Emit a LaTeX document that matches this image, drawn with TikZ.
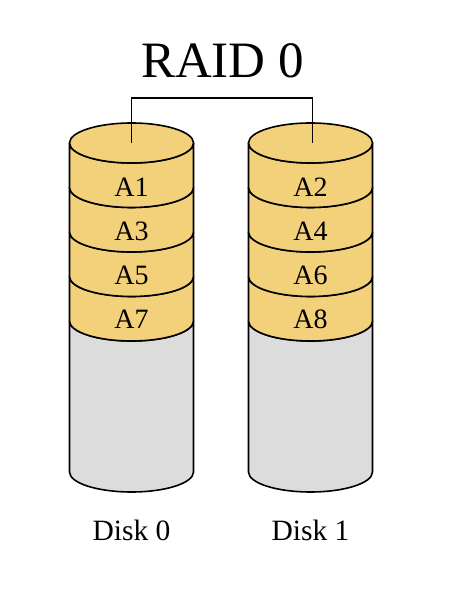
\documentclass[tikz,border=0pt]{standalone}
\usepackage{fontspec}
\setmainfont{Liberation Serif}
\usepackage{tikz}
\usetikzlibrary{positioning}
\usepackage{xcolor}
\definecolor{blockgold}{RGB}{243,208,122}
\definecolor{freegray}{RGB}{220,220,220}

\begin{document}
\begin{tikzpicture}[
    x=1pt,y=1pt,
    disk/.style={draw=black,line width=1.6pt,line join=round},
    blk/.style={disk,fill=blockgold},
    spare/.style={disk,fill=freegray},
    blklabel/.style={inner sep=0pt,font=\fontsize{28}{32}\selectfont},
    disklabel/.style={inner sep=0pt,font=\fontsize{29.5}{33}\selectfont},
    wire/.style={draw=black,line width=1.6pt}
]
\useasboundingbox (0,0) rectangle (453,594);
% Disk 0
\draw[spare] (69.5,273) arc (180:360:62pt and 20pt) -- (193.5,122) arc (0:-180:62pt and 20pt) -- cycle;
\draw[blk] (69.5,317.5) arc (180:360:62pt and 20pt) -- (193.5,273) arc (0:-180:62pt and 20pt) -- cycle;
\draw[blk] (69.5,362) arc (180:360:62pt and 20pt) -- (193.5,317.5) arc (0:-180:62pt and 20pt) -- cycle;
\draw[blk] (69.5,406.5) arc (180:360:62pt and 20pt) -- (193.5,362) arc (0:-180:62pt and 20pt) -- cycle;
\draw[blk] (69.5,451) arc (180:360:62pt and 20pt) -- (193.5,406.5) arc (0:-180:62pt and 20pt) -- cycle;
\draw[blk] (131.5,451) ellipse (62pt and 20pt);
\coordinate (top0) at (131.5,451);
\node[blklabel] (a1) at (131.5,407) {A1};
\node[blklabel] (a3) at (131.5,362.5) {A3};
\node[blklabel] (a5) at (131.5,319) {A5};
\node[blklabel] (a7) at (131.5,275) {A7};
\node[disklabel] (d0) at (131.5,64) {Disk 0};
% Disk 1
\draw[spare] (248.5,273) arc (180:360:62pt and 20pt) -- (372.5,122) arc (0:-180:62pt and 20pt) -- cycle;
\draw[blk] (248.5,317.5) arc (180:360:62pt and 20pt) -- (372.5,273) arc (0:-180:62pt and 20pt) -- cycle;
\draw[blk] (248.5,362) arc (180:360:62pt and 20pt) -- (372.5,317.5) arc (0:-180:62pt and 20pt) -- cycle;
\draw[blk] (248.5,406.5) arc (180:360:62pt and 20pt) -- (372.5,362) arc (0:-180:62pt and 20pt) -- cycle;
\draw[blk] (248.5,451) arc (180:360:62pt and 20pt) -- (372.5,406.5) arc (0:-180:62pt and 20pt) -- cycle;
\draw[blk] (310.5,451) ellipse (62pt and 20pt);
\coordinate (top1) at (312.5,451);
\node[blklabel] (a2) at (310.5,407) {A2};
\node[blklabel] (a4) at (310.5,362.5) {A4};
\node[blklabel] (a6) at (310.5,319) {A6};
\node[blklabel] (a8) at (310.5,275) {A8};
\node[disklabel] (d1) at (310.5,64) {Disk 1};
% title and bracket
\node[inner sep=0pt,font=\fontsize{51}{56}\selectfont] (raid) at (222.5,533.5) {RAID 0};
\draw[wire] (top0) -- ++(0,45) -| (top1);
\end{tikzpicture}
\end{document}
